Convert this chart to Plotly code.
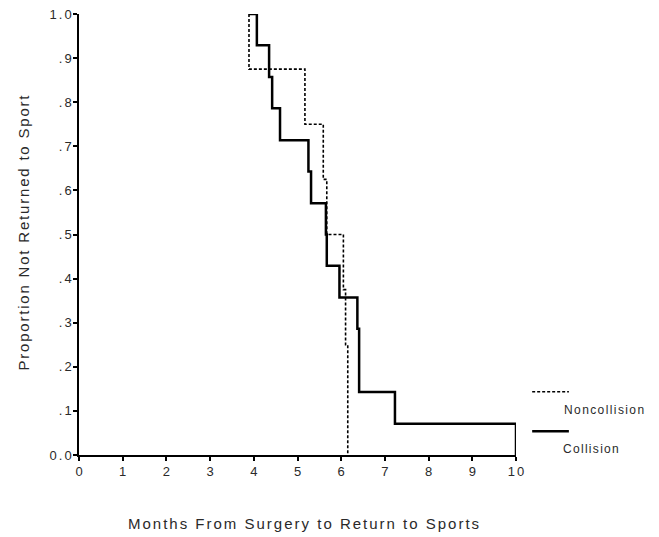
import plotly.graph_objects as go

# Kaplan-Meier style step data (months, proportion not returned)
collision_months = [3.89, 4.07, 4.35, 4.42, 4.60, 5.25, 5.31, 5.65, 5.67, 5.96, 6.37, 6.41, 7.23, 10.0]
collision_prop = [1.0, 0.929, 0.857, 0.786, 0.714, 0.643, 0.571, 0.5, 0.429, 0.357, 0.286, 0.143, 0.071, 0.0]

noncollision_months = [3.89, 3.89, 5.17, 5.59, 5.67, 6.05, 6.10, 6.15]
noncollision_prop = [1.0, 0.875, 0.75, 0.625, 0.5, 0.375, 0.25, 0.0]

x_ticks = list(range(0, 11))
x_tick_labels = [str(v) for v in x_ticks]
y_ticks = [0.0, 0.1, 0.2, 0.3, 0.4, 0.5, 0.6, 0.7, 0.8, 0.9, 1.0]
y_tick_labels = ["0.0", ".1", ".2", ".3", ".4", ".5", ".6", ".7", ".8", ".9", "1.0"]

FONT = "Liberation Sans, Arial, sans-serif"
TXT = "#2a2a2a"


def spaced(s, px):
    # letter spacing between characters, none trailing after the last one
    if len(s) <= 1:
        return s
    return f'<span style="letter-spacing:{px}px">{s[:-1]}</span>{s[-1]}'


fig = go.Figure()
fig.add_trace(go.Scatter(
    x=noncollision_months, y=noncollision_prop, mode="lines", line_shape="hv",
    line=dict(color="black", width=1.6, dash="3px,2px"), name="Noncollision", showlegend=False))
fig.add_trace(go.Scatter(
    x=collision_months, y=collision_prop, mode="lines", line_shape="hv",
    line=dict(color="black", width=2.5), name="Collision", showlegend=False))

fig.update_layout(
    width=659, height=537,
    margin=dict(l=71, r=151, t=6, b=90, autoexpand=False),
    paper_bgcolor="white", plot_bgcolor="white",
    font=dict(family=FONT, color=TXT, size=13),
    xaxis=dict(range=[0, 10], tickvals=x_ticks, ticktext=[spaced(t, 2) for t in x_tick_labels],
               showgrid=False, zeroline=False, showline=True, linecolor="black", linewidth=1.5,
               ticks="outside", ticklen=4, tickwidth=1.5, tickcolor="black",
               tickfont=dict(size=13, color=TXT), automargin=False, ticklabeloverflow="allow"),
    yaxis=dict(range=[0, 1.0], tickvals=y_ticks, ticktext=[spaced(t, 2) for t in y_tick_labels],
               showgrid=False, zeroline=False, showline=True, linecolor="black", linewidth=1.5,
               ticks="outside", ticklen=4, tickwidth=1.5, tickcolor="black",
               tickfont=dict(size=13, color=TXT), automargin=False, ticklabeloverflow="allow",
               ticklabelstandoff=-1),
)

# Axis titles
fig.add_annotation(xref="paper", yref="paper", x=0.513, y=-0.1545, yanchor="middle", xanchor="center",
                   text=spaced("Months From Surgery to Return to Sports", 2), showarrow=False,
                   font=dict(size=15, color=TXT))
fig.add_annotation(xref="paper", yref="paper", x=-0.128, y=0.5045, xanchor="center", yanchor="middle",
                   text=spaced("Proportion Not Returned to Sport", 1.8), showarrow=False, textangle=-90,
                   font=dict(size=15, color=TXT))

# Custom legend (line sample above label), outside plot area at right
fig.add_shape(type="line", xref="paper", yref="paper", x0=1.037, x1=1.121, y0=0.1435, y1=0.1435,
              line=dict(color="black", width=1.6, dash="3px,2px"))
fig.add_annotation(xref="paper", yref="paper", x=1.105, y=0.102, text=spaced("Noncollision", 1.4),
                   showarrow=False, xanchor="left", yanchor="middle", font=dict(size=12, color=TXT))
fig.add_shape(type="line", xref="paper", yref="paper", x0=1.037, x1=1.121, y0=0.054, y1=0.054,
              line=dict(color="black", width=2.5))
fig.add_annotation(xref="paper", yref="paper", x=1.103, y=0.013, text=spaced("Collision", 1.3),
                   showarrow=False, xanchor="left", yanchor="middle", font=dict(size=12, color=TXT))

fig.write_html("out.html")
